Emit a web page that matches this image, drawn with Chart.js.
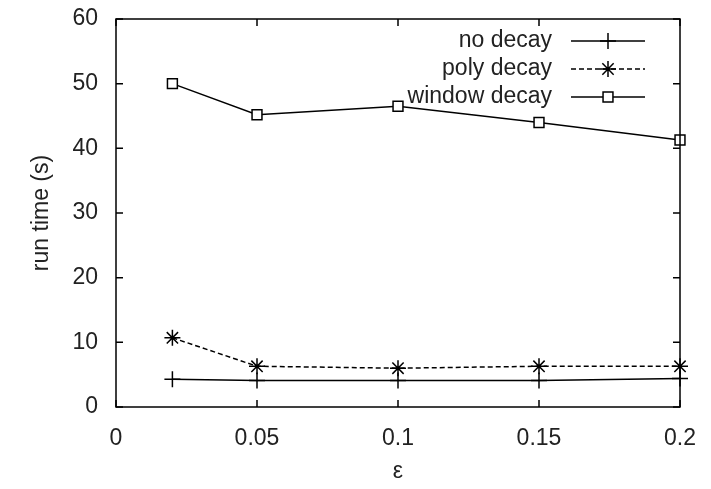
<!DOCTYPE html>
<html>
<head>
<meta charset="utf-8">
<script src="https://cdn.jsdelivr.net/npm/chart.js@4/dist/chart.umd.min.js"></script>
<style>
  html, body { margin: 0; padding: 0; background: #fff; }
  #wrap { width: 711px; height: 489px; }
</style>
</head>
<body>
<div id="wrap"><canvas id="myChart" width="711" height="489"></canvas></div>
<script>
// epsilon values along x
const epsilons = [0.02, 0.05, 0.1, 0.15, 0.2];

// run times in seconds
const noDecay = [4.3, 4.1, 4.1, 4.1, 4.4];
const polyDecay = [10.7, 6.3, 6.0, 6.3, 6.3];
const windowDecay = [50.0, 45.2, 46.5, 44.0, 41.3];

const xTickLabels = ["0", "0.05", "0.1", "0.15", "0.2"];
const yTickLabels = ["0", "10", "20", "30", "40", "50", "60"];

const FONT = "'Liberation Sans', Arial, sans-serif";

function toPoints(values) {
  return values.map((v, i) => ({ x: epsilons[i], y: v }));
}

// gnuplot style frame: box all round, ticks pointing inward
const framePlugin = {
  id: "frame",
  afterDatasetsDraw(chart) {
    const { ctx, chartArea: a, scales } = chart;
    ctx.save();
    ctx.strokeStyle = "#000";
    ctx.lineWidth = 1.5;
    ctx.strokeRect(a.left, a.top, a.right - a.left, a.bottom - a.top);
    const len = 7;
    ctx.beginPath();
    scales.x.ticks.forEach((t) => {
      const px = scales.x.getPixelForValue(t.value);
      ctx.moveTo(px, a.bottom);
      ctx.lineTo(px, a.bottom - len);
      ctx.moveTo(px, a.top);
      ctx.lineTo(px, a.top + len);
    });
    scales.y.ticks.forEach((t) => {
      const py = scales.y.getPixelForValue(t.value);
      ctx.moveTo(a.left, py);
      ctx.lineTo(a.left + len, py);
      ctx.moveTo(a.right, py);
      ctx.lineTo(a.right - len, py);
    });
    ctx.stroke();
    ctx.restore();
  },
};

// key in the top right corner, text right aligned before the sample
const keyPlugin = {
  id: "key",
  afterDraw(chart) {
    const { ctx } = chart;
    ctx.save();
    ctx.font = "23px " + FONT;
    ctx.textAlign = "right";
    ctx.textBaseline = "middle";
    chart.data.datasets.forEach((ds, i) => {
      const y = 41 + i * 28;
      ctx.fillStyle = "#222";
      ctx.fillText(ds.label, 552, y);
      ctx.strokeStyle = "#000";
      ctx.lineWidth = 1.5;
      ctx.setLineDash(ds.borderDash || []);
      ctx.beginPath();
      ctx.moveTo(571, y);
      ctx.lineTo(645, y);
      ctx.stroke();
      ctx.setLineDash([]);
      ctx.fillStyle = "#fff";
      Chart.helpers.drawPoint(ctx, {
        pointStyle: ds.pointStyle,
        radius: ds.pointRadius,
        rotation: 0,
        borderWidth: 1.5,
      }, 608, y);
    });
    ctx.restore();
  },
};

const common = {
  borderColor: "#000",
  backgroundColor: "#fff",
  borderWidth: 1.5,
  pointBorderWidth: 1.5,
  tension: 0,
  clip: false,
  fill: false,
};

new Chart(document.getElementById("myChart"), {
  type: "line",
  data: {
    datasets: [
      { ...common, label: "no decay", data: toPoints(noDecay), pointStyle: "cross", pointRadius: 8 },
      { ...common, label: "poly decay", data: toPoints(polyDecay), pointStyle: "star", pointRadius: 8, borderDash: [5, 3] },
      { ...common, label: "window decay", data: toPoints(windowDecay), pointStyle: "rect", pointRadius: 7 },
    ],
  },
  options: {
    responsive: false,
    animation: false,
    layout: { padding: { left: 0, right: 31, top: 19, bottom: 0 } },
    plugins: {
      legend: { display: false },
      tooltip: { enabled: false },
    },
    scales: {
      x: {
        type: "linear",
        min: 0,
        max: 0.2,
        grid: { display: false, drawTicks: false },
        border: { display: false },
        ticks: {
          stepSize: 0.05,
          padding: 18,
          color: "#222",
          font: { family: FONT, size: 23 },
          maxRotation: 0,
          callback: (v, i) => xTickLabels[i],
        },
        title: {
          display: true,
          text: "ε",
          color: "#222",
          font: { family: FONT, size: 23 },
          padding: { top: 12 },
        },
        afterFit: (s) => {
          s.height = 82;
          s.paddingLeft = 0;
          s.paddingRight = 0;
        },
      },
      y: {
        min: 0,
        max: 60,
        grid: { display: false, drawTicks: false },
        border: { display: false },
        ticks: {
          stepSize: 10,
          padding: 18,
          color: "#222",
          font: { family: FONT, size: 23 },
          callback: (v, i) => yTickLabels[i],
        },
        title: {
          display: true,
          text: "run time (s)",
          color: "#222",
          font: { family: FONT, size: 23 },
          padding: { top: 28, bottom: 0 },
        },
        afterFit: (s) => {
          s.width = 116;
          s.paddingTop = 0;
          s.paddingBottom = 0;
        },
      },
    },
  },
  plugins: [framePlugin, keyPlugin],
});
</script>
</body>
</html>
